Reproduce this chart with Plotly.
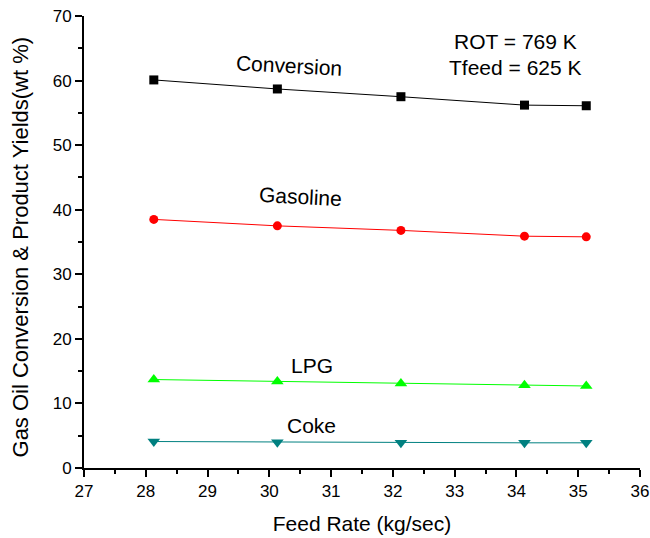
import plotly.graph_objects as go

feed_rate = [28.13, 30.13, 32.13, 34.13, 35.13]
conversion = [60.1, 58.7, 57.5, 56.2, 56.1]
gasoline = [38.5, 37.5, 36.8, 35.9, 35.8]
lpg = [13.7, 13.4, 13.1, 12.8, 12.7]
coke = [4.1, 4.0, 3.9, 3.9, 3.9]

series = [
    ("Conversion", conversion, "black", "square", 9),
    ("Gasoline", gasoline, "red", "circle", 9),
    ("LPG", lpg, "#00ff00", "triangle-up", 11),
    ("Coke", coke, "#008080", "triangle-down", 11),
]

fig = go.Figure()
for name, ys, color, symbol, size in series:
    fig.add_trace(go.Scatter(
        x=feed_rate, y=ys, name=name, mode="lines+markers",
        line=dict(color=color, width=1),
        marker=dict(symbol=symbol, size=size, color=color),
    ))

font = "Liberation Sans, Arial, sans-serif"
labels = [
    ("Conversion", 30.32, 62.4, 3),
    ("Gasoline", 30.50, 42.0, 3),
    ("LPG", 30.69, 15.9, 0),
    ("Coke", 30.69, 6.6, 0),
    ("ROT = 769 K", 33.99, 66.0, 0),
    ("Tfeed = 625 K", 33.99, 62.1, 0),
]
for text, x, y, ang in labels:
    fig.add_annotation(x=x, y=y, text=text, showarrow=False, textangle=ang,
                       font=dict(family=font, size=21, color="black"))

# vertical axis title, placed as paper-anchored text
fig.add_annotation(x=-0.115, y=0.488, xref="paper", yref="paper",
                   xanchor="center", yanchor="middle",
                   text="Gas Oil Conversion & Product Yields(wt %)",
                   showarrow=False, textangle=-90,
                   font=dict(family=font, size=22, color="black"))

axis_common = dict(
    showline=True, linecolor="black", linewidth=2, mirror=False,
    ticks="outside", ticklen=7, tickwidth=2, tickcolor="black",
    showgrid=False, zeroline=False, automargin=False,
    tickfont=dict(family=font, size=17, color="black"),
)

fig.update_layout(
    width=650, height=538,
    margin=dict(l=84, r=10, t=16, b=70, autoexpand=False),
    paper_bgcolor="white", plot_bgcolor="white",
    showlegend=False,
    font=dict(family=font, color="black"),
    xaxis=dict(range=[27, 36], dtick=1,
               minor=dict(dtick=0.5, ticks="outside", ticklen=4, tickwidth=2, tickcolor="black"),
               title=dict(text="Feed Rate (kg/sec)", font=dict(family=font, size=21), standoff=16),
               **axis_common),
    yaxis=dict(range=[0, 70], dtick=10,
               minor=dict(dtick=5, ticks="outside", ticklen=4, tickwidth=2, tickcolor="black"),
               **axis_common),
)

fig.write_html("out.html")
